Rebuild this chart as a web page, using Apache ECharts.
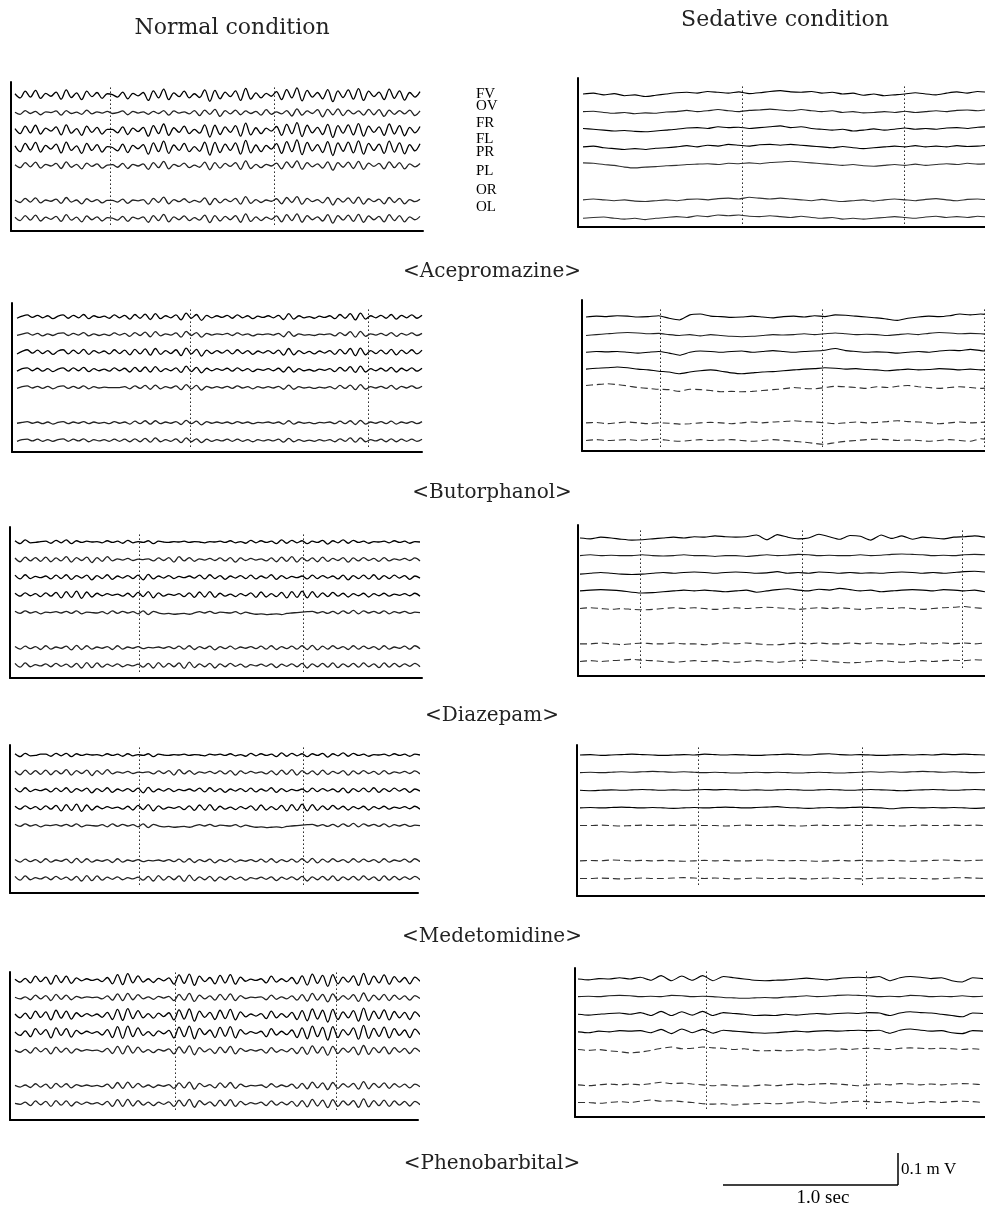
<!DOCTYPE html>
<html><head><meta charset="utf-8">
<script src="https://cdn.jsdelivr.net/npm/echarts@6/dist/echarts.min.js"></script>
<style>html,body{margin:0;padding:0;background:#fff}#c{width:985px;height:1214px}</style>
</head><body><div id="c"></div>
<script>
// ---------------- DATA ----------------
const channels = ['FV','OV','FR','FL','PR','PL','OR','OL'];
const recordedChannels = ['FV','OV','FR','FL','PR','OR','OL']; // PL not traced
const drugs = ['Acepromazine','Butorphanol','Diazepam','Medetomidine','Phenobarbital'];
const conditions = ['Normal condition','Sedative condition'];
const scaleTime = '1.0 sec', scaleVolt = '0.1 m V';
const recordDuration = 2.5; // s shown per panel

// values in µV, order = recordedChannels
const acepromazineNormal = [
 [3,-7,9,-5,11,-8,4,-3,7,-10,12,-6,5,-11,9,-4,6,-8,3,1,-5,7,-9,4,-2,6,-13,10,-7,14,-11,5,-4,9,-7,3,-6,12,-15,11,-9,7,-4,10,-13,16,-10,5,-7,4,-3,8,-11,13,-7,17,-14,11,-5,6,-9,13,-16,10,-6,12,-10,15,-13,9,-4,7,-11,14,-8,10,-12,6,-5,8],
 [1,-4,5,-2,3,-5,2,0,4,-6,5,-2,1,-4,6,-3,2,-1,3,-2,0,4,-5,3,-1,2,-4,3,-2,5,-6,4,-1,2,-3,5,-7,6,-4,8,-9,5,-3,6,-5,4,-2,3,-6,7,-4,2,-3,5,-8,9,-6,4,-2,7,-10,8,-5,9,-7,6,-3,4,-6,8,-5,7,-9,6,-4,5,-3,6,-7,4],
 [4,-8,10,-6,12,-9,5,-2,8,-11,13,-7,4,-12,10,-5,7,-9,2,2,-6,8,-10,5,-3,7,-14,11,-8,15,-12,6,-5,10,-8,2,-7,13,-16,12,-10,8,-5,11,-14,17,-11,6,-8,5,-2,9,-12,14,-8,18,-15,12,-6,7,-10,14,-17,11,-7,13,-11,16,-14,10,-5,8,-12,15,-9,11,-13,7,-6,9],
 [5,-9,11,-5,13,-10,6,-3,9,-12,14,-6,5,-13,11,-6,8,-10,3,1,-7,9,-11,6,-2,8,-15,12,-9,16,-13,7,-6,11,-9,3,-8,14,-17,13,-11,9,-6,12,-15,18,-12,7,-9,6,-3,10,-13,15,-9,19,-16,13,-7,8,-11,15,-18,12,-8,14,-12,17,-15,11,-6,9,-13,16,-10,12,-14,8,-7,10],
 [2,-5,7,-3,8,-6,3,-1,5,-7,9,-4,3,-8,6,-2,4,-6,1,2,-4,5,-7,3,-1,4,-9,7,-5,10,-8,3,-2,6,-5,1,-4,8,-10,7,-6,5,-2,7,-9,11,-7,3,-5,3,-1,6,-8,9,-5,11,-9,7,-3,4,-6,9,-11,7,-4,8,-7,10,-9,6,-2,5,-8,9,-5,7,-8,4,-3,5],
 [2,-4,6,-3,7,-5,2,-1,4,-6,8,-3,2,-7,5,-2,3,-5,1,1,-3,4,-6,2,0,3,-8,6,-4,9,-7,3,-2,5,-4,1,-3,7,-9,6,-5,4,-2,6,-8,10,-6,3,-4,2,-1,5,-7,8,-4,10,-8,6,-2,3,-5,8,-10,6,-3,7,-6,9,-8,5,-2,4,-7,8,-4,6,-7,3,-2,4],
 [3,-5,7,-4,8,-6,3,-2,5,-7,9,-4,3,-8,6,-3,4,-6,2,1,-4,5,-7,3,-1,4,-9,7,-5,10,-8,4,-3,6,-5,2,-4,8,-10,7,-6,5,-3,7,-9,11,-7,4,-5,3,-2,6,-8,9,-5,11,-9,7,-3,4,-6,9,-11,7,-4,8,-7,10,-9,6,-3,5,-8,9,-5,7,-8,4,-3,5]
];
const acepromazineSedative = [
 [0,2,-2,1,-4,-2,-6,-3,0,3,4,2,6,4,2,5,1,3,6,8,5,4,6,2,4,0,2,-3,0,-4,-2,0,3,0,-2,2,5,2,6,4],
 [0,1,-2,-4,-2,-5,-3,-4,-1,0,3,0,2,5,2,0,3,4,6,4,2,5,2,0,2,-2,0,-3,-2,0,-2,1,-2,0,2,0,3,4,2,5],
 [2,0,-2,-4,-3,-5,-6,-4,-2,0,3,4,2,6,4,5,2,4,6,8,4,6,2,0,-2,0,-4,-2,1,-2,0,3,0,2,0,3,4,2,5,6],
 [0,2,-2,-4,-6,-4,-6,-3,-2,0,3,0,4,2,6,4,2,5,6,4,6,4,2,0,-2,1,-2,-4,-2,0,2,0,3,0,2,0,3,1,2,4],
 [4,3,0,-2,-6,-8,-6,-5,-3,-2,0,1,2,0,3,2,4,2,5,6,8,6,4,2,0,-2,0,-3,-4,-2,0,-2,1,-2,0,2,0,3,1,2],
 [0,2,0,-2,0,-3,-4,-2,0,-2,1,2,0,3,4,2,6,4,2,4,2,0,-2,1,-2,-4,-2,0,-3,0,2,0,-2,1,3,0,-2,1,2,0],
 [-2,0,1,-2,-4,-2,-5,-2,0,2,0,4,2,6,4,6,3,2,4,2,0,3,0,-2,0,-4,-2,-4,-2,0,2,0,-2,1,3,0,2,0,3,1]
];
const butorphanolNormal = [
 [-3,2,5,-1,4,-2,3,-4,2,5,-3,4,-2,6,-4,3,-1,2,-3,5,-2,4,-5,6,-3,7,-6,8,-4,3,-2,5,-7,9,-3,6,-8,4,-2,3,-1,4,-3,5,-2,3,-4,2,-1,3,-2,4,-6,8,-5,3,-2,1,-3,2,-1,3,-4,6,-3,8,-7,9,-5,3,-2,4,-3,6,-5,4,-2,5,-3,4],
 [-2,1,4,-1,3,-3,2,-2,3,4,-2,3,-1,5,-3,2,-2,1,-2,4,-1,3,-4,5,-2,6,-5,7,-3,2,-1,4,-6,8,-2,5,-6,3,-1,2,0,3,-2,4,-1,2,-3,1,0,2,-1,3,-5,7,-4,2,-1,0,-2,1,0,2,-3,5,-2,7,-6,8,-4,2,-1,3,-2,5,-4,3,-1,4,-2,3],
 [-4,2,6,-2,5,-3,4,-5,3,6,-4,5,-3,7,-5,4,-2,3,-4,6,-3,5,-6,7,-4,8,-7,9,-5,4,-3,6,-8,10,-4,7,-9,5,-3,4,-2,5,-4,6,-3,4,-5,3,-2,4,-3,5,-7,9,-6,4,-3,2,-4,3,-2,4,-5,7,-4,9,-8,10,-6,4,-3,5,-4,7,-6,5,-3,6,-4,5],
 [-3,3,5,-2,4,-3,3,-4,2,5,-3,5,-2,6,-4,3,-2,2,-3,5,-2,4,-5,6,-4,7,-5,8,-4,3,-2,5,-6,9,-4,6,-7,4,-2,3,-1,4,-3,5,-2,3,-4,2,-1,3,-2,4,-5,7,-5,3,-2,1,-3,2,-1,3,-4,6,-3,8,-6,9,-5,3,-2,4,-3,6,-5,4,-2,5,-3,4],
 [-2,2,4,-1,3,-2,3,-3,2,4,-2,3,-2,4,-3,2,-1,1,0,0,0,2,-3,4,-2,5,-4,6,-3,2,-1,4,-5,7,-3,5,-6,3,-1,2,-1,3,-2,4,-1,2,-3,2,-1,2,-1,3,-4,6,-4,2,-1,1,-2,1,-1,2,-3,5,-2,6,-5,7,-4,2,-1,3,-2,5,-4,3,-1,4,-2,3],
 [-1,1,3,-1,2,-2,2,-3,1,3,-2,2,-1,3,-2,2,-1,1,-2,3,-1,2,-3,4,-2,5,-3,5,-2,2,-1,3,-4,6,-2,4,-5,3,-1,2,-1,2,-2,3,-1,2,-2,1,0,2,-1,2,-3,5,-3,2,-1,1,-2,1,0,2,-2,4,-2,5,-4,6,-3,2,-1,3,-2,4,-3,2,-1,3,-2,3],
 [-2,2,3,-1,3,-2,2,-2,2,4,-2,3,-1,4,-3,2,-1,2,-2,3,-2,3,-3,4,-3,5,-4,6,-3,2,-2,4,-5,6,-3,4,-5,3,-2,2,-1,3,-2,3,-2,2,-3,2,-1,2,-1,3,-4,5,-3,2,-2,1,-2,2,-1,2,-3,4,-2,6,-4,6,-3,2,-1,3,-3,4,-3,3,-2,3,-2,3]
];
const butorphanolSedative = [
 [0,2,1,3,2,0,1,3,-3,-7,5,7,2,1,-1,0,2,0,-2,1,2,0,3,1,5,4,2,0,-2,-5,-8,-3,0,2,1,3,7,5,7,5],
 [-2,0,2,4,5,4,2,3,0,-2,0,-3,0,-2,-4,-5,-4,-2,0,-1,0,2,0,2,4,2,0,1,0,-2,0,2,0,3,5,4,2,3,2,0],
 [0,2,1,2,0,-2,0,2,-2,-7,0,3,2,0,2,3,0,2,4,2,0,2,3,5,9,4,2,0,1,0,-2,0,2,0,3,5,4,7,4,2],
 [2,4,5,7,5,2,0,-3,-5,-9,-5,-2,0,-3,-7,-9,-7,-5,-4,-2,0,2,3,5,4,2,3,1,0,-2,0,2,0,1,3,2,0,2,0,2],
 [5,7,9,7,4,0,-2,-4,-5,-9,-4,-5,-7,-10,-9,-10,-9,-7,-5,-3,0,-2,-3,0,3,2,0,-2,2,0,3,5,2,0,-2,0,2,0,-2,0],
 [0,1,-2,0,2,0,-2,0,-1,-3,-2,0,1,0,-2,0,2,0,2,3,5,3,2,0,-2,0,2,0,1,3,5,3,2,0,-2,0,2,0,1,3],
 [0,2,0,1,2,0,2,3,0,-2,0,2,0,1,2,0,-2,0,2,0,-2,-4,-7,-9,-5,-2,0,2,3,2,0,1,0,-2,0,2,0,-2,4,2]
];
const diazepamNormal = [
 [3,-4,5,-2,-1,1,2,-3,4,-2,5,-4,3,-1,2,0,1,-2,3,-1,2,-3,4,-2,1,-1,3,-4,2,0,-1,1,0,2,-1,1,0,-2,1,0,2,-1,3,-2,1,-3,4,-2,3,-1,2,-4,5,-3,4,-2,3,-4,2,-1,4,-5,3,-2,5,-3,4,-1,2,-3,1,0,2,-2,3,-1,2,-3,1,0],
 [4,-5,6,-3,5,-4,6,-5,4,-3,7,-6,5,-2,6,-7,5,-4,7,-3,2,-1,3,-2,1,0,2,-3,4,-2,5,-6,7,-3,5,-4,2,-1,3,-2,4,-3,5,-6,4,-2,3,-1,2,-3,4,-5,6,-4,7,-6,5,-3,4,-5,6,-4,3,-2,5,-6,4,-3,5,-2,3,-4,5,-3,2,-1,3,-2,4,-3],
 [5,-4,6,-3,2,-1,3,-4,5,-3,6,-5,4,-2,5,-6,4,-3,6,-5,3,-2,4,-3,5,-6,7,-4,3,-2,4,-3,2,-1,3,-2,5,-4,6,-3,4,-5,3,-2,4,-3,5,-4,3,-2,6,-5,4,-3,2,-1,3,-4,5,-3,4,-2,3,-4,5,-6,4,-3,5,-4,6,-5,4,-3,5,-2,4,-5,3,-2],
 [4,-3,5,-2,3,-4,5,-3,6,-7,8,-6,9,-8,7,-5,4,-2,3,-1,2,-3,4,-5,6,-4,8,-7,5,-3,2,-1,3,-4,5,-6,7,-5,8,-6,4,-3,2,-4,3,-2,5,-6,7,-5,3,-4,6,-7,8,-6,9,-7,8,-6,5,-4,6,-3,4,-5,3,-2,4,-5,3,-2,4,-3,2,-1,3,-2,4,-3],
 [3,-2,4,-1,2,-3,1,0,2,-1,3,-2,4,-3,1,0,-1,2,-3,4,-2,3,-1,2,-3,4,-5,3,-1,-3,-2,-4,-3,-2,-4,-1,2,-1,3,-2,1,0,-1,2,-3,1,-2,-4,-3,-5,-4,-3,-5,-2,-1,0,1,2,3,-1,2,-2,3,-3,4,-2,5,-3,4,-1,3,-2,4,-3,2,-1,3,-2,1,0],
 [3,-3,4,-2,3,-4,5,-3,2,-1,4,-5,6,-4,5,-3,2,-1,3,-4,5,-3,2,-1,3,-2,1,0,2,-1,3,-2,4,-3,5,-4,3,-2,4,-5,3,-2,4,-3,2,-1,3,-2,4,-3,5,-4,3,-2,4,-3,5,-4,6,-5,4,-3,5,-2,3,-4,5,-3,4,-2,3,-4,5,-3,2,-1,4,-3,5,-2],
 [5,-4,6,-3,2,-1,4,-3,5,-2,3,-4,5,-6,7,-5,6,-4,3,-2,4,-3,2,-1,3,-4,5,-6,7,-4,5,-3,6,-7,8,-5,4,-3,5,-6,4,-3,5,-2,3,-4,2,-1,3,-2,4,-5,3,-2,4,-3,5,-6,4,-3,5,-4,6,-5,4,-3,5,-4,6,-3,4,-5,6,-4,5,-3,4,-2,5,-3]
];
const diazepamSedative = [
 [0,-2,2,0,-3,-5,-4,-2,0,2,0,3,2,5,3,2,3,7,-4,8,2,-2,0,9,3,-3,6,4,-5,7,-1,5,-3,2,0,-2,2,3,5,2],
 [0,2,0,1,0,0,2,0,-1,0,2,0,0,-2,0,0,-2,0,2,0,1,3,2,0,1,0,0,2,0,1,3,4,3,2,0,1,0,2,3,2],
 [-2,0,2,0,-2,-3,-2,0,2,0,2,3,2,0,2,3,2,0,1,4,0,2,0,3,2,0,2,0,1,0,2,3,2,0,2,0,2,4,5,3],
 [0,2,3,2,0,-3,-5,-4,-2,0,2,0,2,0,-2,0,2,-3,0,3,5,2,0,4,2,6,3,0,2,-2,0,2,3,2,0,3,2,0,2,-2],
 [0,2,0,-2,0,-2,-3,-2,0,2,0,2,0,-2,0,2,0,2,3,2,0,-2,0,2,0,2,0,-2,0,2,0,2,0,-2,0,2,3,5,2,0],
 [0,0,2,0,-2,0,2,0,0,2,0,0,-2,0,2,0,2,0,-2,-2,0,2,0,2,0,0,2,0,2,0,0,-2,0,2,0,2,0,2,0,2],
 [0,2,0,2,3,5,3,2,0,-2,0,2,0,2,0,-2,0,2,0,-2,0,2,3,2,0,-2,-3,-2,0,2,0,-2,0,2,0,2,3,2,4,3]
];
const medetomidineNormal = [
 [3,-4,4,-2,-1,2,2,-3,4,-2,4,-4,3,-1,2,0,1,-2,3,-1,2,-3,3,-2,1,-1,3,-4,2,0,-1,1,0,2,-1,1,0,-2,2,0,2,-1,3,-2,1,-3,4,-2,3,-1,2,-4,5,-3,4,-2,3,-4,3,-1,4,-5,3,-2,5,-3,4,-1,2,-3,1,0,2,-2,3,-1,2,-3,2,0],
 [4,-5,6,-4,5,-4,6,-5,5,-3,7,-6,5,-2,6,-7,5,-4,7,-3,2,-1,3,-2,1,0,2,-3,4,-2,5,-6,7,-3,5,-4,2,-1,3,-2,4,-3,5,-6,4,-2,3,-1,2,-3,4,-5,6,-4,7,-6,5,-3,4,-5,6,-4,3,-2,5,-6,4,-3,5,-2,3,-4,5,-3,2,-1,3,-2,4,-3],
 [5,-4,6,-3,2,-1,3,-4,5,-3,6,-5,4,-2,5,-6,4,-3,6,-5,3,-2,4,-3,5,-6,7,-4,3,-2,4,-3,2,-1,3,-2,5,-4,6,-3,4,-5,3,-2,4,-3,5,-4,3,-2,6,-5,4,-3,2,-1,3,-4,5,-3,4,-2,3,-4,5,-6,4,-3,5,-4,6,-5,4,-3,5,-2,4,-5,3,-2],
 [4,-3,5,-2,3,-4,5,-3,6,-7,8,-6,9,-8,7,-5,4,-2,3,-1,2,-3,4,-5,6,-4,8,-7,5,-3,2,-1,3,-4,5,-6,7,-5,8,-6,4,-3,2,-4,3,-2,5,-6,7,-5,3,-4,6,-7,8,-6,9,-7,8,-6,5,-4,6,-3,4,-5,3,-2,4,-5,3,-2,4,-3,2,-1,3,-2,4,-3],
 [3,-2,4,-1,2,-3,1,0,2,-1,3,-2,4,-3,1,0,-1,2,-3,4,-2,3,-1,2,-3,4,-5,3,-1,-3,-2,-4,-3,-2,-4,-1,2,-1,3,-2,1,0,-1,2,-3,1,-2,-4,-3,-5,-4,-3,-5,-2,-1,0,1,2,3,-1,2,-2,3,-3,4,-2,5,-3,4,-1,3,-2,4,-3,2,-1,3,-2,1,0],
 [3,-3,4,-2,3,-4,5,-3,2,-1,4,-5,6,-4,5,-3,2,-1,3,-4,5,-3,2,-1,3,-2,1,0,2,-1,3,-2,4,-3,5,-4,3,-2,4,-5,3,-2,4,-3,2,-1,3,-2,4,-3,5,-4,3,-2,4,-3,5,-4,6,-5,4,-3,5,-2,3,-4,5,-3,4,-2,3,-4,5,-3,2,-1,4,-3,5,-2],
 [5,-4,6,-3,2,-1,4,-3,5,-2,3,-4,5,-6,7,-5,6,-4,3,-2,4,-3,2,-1,3,-4,5,-6,7,-4,5,-3,6,-7,8,-5,4,-3,5,-6,4,-3,5,-2,3,-4,2,-1,3,-2,4,-5,3,-2,4,-3,5,-6,4,-3,5,-4,6,-5,4,-3,5,-4,6,-3,4,-5,6,-4,5,-3,4,-2,5,-3]
];
const medetomidineSedative = [
 [0,1,-1,0,1,2,1,0,-1,0,1,0,2,1,0,1,0,-1,0,1,2,1,0,2,3,1,0,1,0,-1,0,1,0,1,0,2,1,2,1,0],
 [0,1,0,1,2,1,2,3,2,1,2,1,0,1,0,-1,0,1,0,1,0,-1,0,1,0,-1,0,1,2,1,2,1,2,3,2,1,2,1,0,1],
 [0,-1,0,1,0,1,2,1,0,1,0,1,2,1,2,1,0,1,0,1,2,1,0,1,2,1,0,1,2,1,0,-1,0,1,2,1,0,1,2,1],
 [0,1,0,1,2,1,0,1,0,-1,0,1,0,1,2,1,0,1,2,3,1,0,-1,0,1,0,1,2,1,0,-2,0,1,0,1,0,1,0,-1,0],
 [0,0,1,0,-1,0,1,0,0,1,0,1,0,0,-1,0,1,0,0,1,0,-1,0,1,0,0,1,0,1,0,0,-1,0,1,0,0,1,0,1,0],
 [0,1,0,2,1,0,1,0,1,0,-1,0,1,0,1,0,0,1,2,1,0,1,0,-1,0,1,0,1,0,0,1,0,-1,0,1,2,1,0,1,2],
 [0,0,1,0,-1,0,1,0,0,1,2,1,0,1,0,-1,0,1,0,0,1,0,-1,0,1,0,0,-1,0,1,0,1,0,0,-1,0,1,2,1,0]
];
const phenobarbitalNormal = [
 [2,-5,4,-7,9,-4,7,-10,11,-6,9,-8,5,-2,3,-1,2,-4,6,-9,13,-11,15,-7,10,-5,3,-6,4,-2,5,-10,12,-8,14,-13,9,-4,6,-9,11,-7,13,-10,7,-3,2,-1,3,-7,9,-5,3,-4,6,-9,10,-12,14,-8,11,-15,13,-9,7,-5,10,-13,16,-11,9,-7,12,-10,8,-5,6,-9,7,-3],
 [1,-3,2,-5,6,-3,5,-7,8,-4,6,-5,3,-1,2,0,1,-3,4,-6,9,-7,10,-5,7,-3,2,-4,3,-1,3,-7,8,-6,10,-9,6,-3,4,-6,8,-5,9,-7,5,-2,1,0,2,-5,6,-4,2,-3,4,-6,7,-8,10,-6,8,-10,9,-6,5,-4,7,-9,11,-8,6,-5,8,-7,6,-4,4,-6,5,-2],
 [3,-6,5,-8,10,-5,8,-11,12,-7,10,-9,6,-3,4,-2,3,-5,7,-10,14,-12,16,-8,11,-6,4,-7,5,-3,6,-11,13,-9,15,-14,10,-5,7,-10,12,-8,14,-11,8,-4,3,-2,4,-8,10,-6,4,-5,7,-10,11,-13,15,-9,12,-16,14,-10,8,-6,11,-14,17,-12,10,-8,13,-11,9,-6,7,-10,8,-4],
 [2,-6,5,-9,10,-4,8,-12,12,-6,10,-10,6,-2,4,-1,3,-5,8,-11,15,-13,16,-9,12,-6,3,-7,5,-2,6,-12,14,-9,16,-14,11,-4,7,-11,13,-8,15,-12,8,-3,3,-1,4,-9,10,-5,4,-4,7,-11,12,-14,16,-9,13,-17,15,-11,8,-5,12,-15,18,-13,11,-8,14,-12,10,-6,7,-11,9,-4],
 [1,-4,3,-6,7,-3,5,-8,8,-4,6,-6,4,-1,2,0,1,-3,5,-7,10,-8,11,-6,8,-4,2,-5,3,-1,4,-8,9,-6,11,-10,7,-3,4,-7,8,-5,10,-8,5,-2,2,-1,3,-6,7,-4,2,-3,5,-7,8,-9,11,-6,9,-11,10,-7,6,-4,8,-10,12,-9,7,-5,9,-8,7,-4,5,-7,6,-3],
 [1,-3,2,-4,5,-3,4,-6,6,-3,5,-5,3,-1,2,-1,1,-2,4,-6,8,-6,9,-5,6,-3,2,-4,2,-1,3,-6,7,-5,9,-8,6,-2,3,-5,7,-4,8,-6,4,-2,1,0,2,-4,5,-3,2,-2,4,-6,6,-7,9,-5,7,-9,8,-6,5,-3,6,-8,10,-7,6,-4,7,-6,5,-3,4,-5,4,-2],
 [0,-2,3,-5,6,-3,5,-7,7,-4,6,-6,4,-2,3,-1,2,-3,5,-7,9,-7,10,-6,7,-4,3,-5,3,-2,4,-7,8,-6,10,-9,7,-3,4,-6,8,-5,9,-7,5,-3,2,-1,3,-5,6,-4,3,-3,5,-7,7,-8,10,-6,8,-10,9,-7,6,-4,7,-9,11,-8,7,-5,8,-7,6,-4,5,-6,5,-3]
];
const phenobarbitalSedative = [
 [0,-2,1,0,3,0,4,-3,8,-4,7,-3,8,-4,6,3,0,-3,-4,-3,-2,0,2,0,-2,1,3,4,3,6,-4,3,6,4,1,3,-4,-7,3,1],
 [0,1,0,2,3,2,0,1,0,3,2,0,1,0,-2,-3,-4,-3,-2,-3,-1,0,2,0,1,3,4,3,2,0,1,0,3,2,0,1,0,2,0,1],
 [0,-2,0,2,3,0,4,-3,7,-3,6,-2,7,-3,4,2,0,-3,-2,-3,0,-2,0,2,0,2,3,2,4,3,-3,3,6,4,3,0,-3,-6,3,2],
 [0,-2,2,0,3,2,3,-2,6,-4,7,-2,6,-3,4,2,0,-2,-3,-2,0,2,0,2,3,2,3,4,3,4,-3,4,7,4,2,3,-2,-4,3,2],
 [0,-2,0,-3,-5,-8,-6,-2,3,6,2,3,6,4,3,0,2,-2,-3,-2,-3,-2,0,-2,0,2,0,2,3,2,0,3,4,3,2,3,2,0,2,0],
 [0,-2,0,2,0,2,0,3,6,3,4,2,0,-2,0,-2,-3,-2,0,-2,0,2,0,2,3,2,0,-2,0,2,0,3,2,0,2,0,2,3,2,0],
 [0,0,-2,0,2,0,3,6,3,4,2,0,-3,-4,-3,-6,-4,-3,-2,-3,-2,0,2,0,-2,0,2,3,2,0,2,0,-2,0,2,0,2,3,2,0]
];
// 1-second time marks (s from start of trace)
const acepromazineNormalMarks = [0.59, 1.60], acepromazineSedativeMarks = [0.98, 1.98];
const butorphanolNormalMarks = [1.07, 2.17], butorphanolSedativeMarks = [0.46, 1.46, 2.457];
const diazepamNormalMarks = [0.77, 1.78], diazepamSedativeMarks = [0.37, 1.37, 2.36];
const medetomidineNormalMarks = [0.77, 1.78], medetomidineSedativeMarks = [0.73, 1.74];
const phenobarbitalNormalMarks = [0.99, 1.98], phenobarbitalSedativeMarks = [0.79, 1.78];

// ---------------- LAYOUT ----------------
const PX_PER_SEC = 162, PX_PER_UV = 0.42, CH_SPACING = 42;
// [axisLeft, top, right, bottom, traceStartX, firstTraceY]
const boxes = [
 [11,82,423,231,15,95],[578,78,985,227,583,94],
 [12,303,422,452,17,317],[582,300,985,451,586,317],
 [10,527,422,678,15,542],[578,525,985,676,580,538],
 [10,745,418,893,15,755],[577,745,985,896,580,755],
 [10,972,418,1120,15,980],[575,968,985,1117,578,979]
];
const panelData = [
 [acepromazineNormal, acepromazineNormalMarks],[acepromazineSedative, acepromazineSedativeMarks],
 [butorphanolNormal, butorphanolNormalMarks],[butorphanolSedative, butorphanolSedativeMarks],
 [diazepamNormal, diazepamNormalMarks],[diazepamSedative, diazepamSedativeMarks],
 [medetomidineNormal, medetomidineNormalMarks],[medetomidineSedative, medetomidineSedativeMarks],
 [phenobarbitalNormal, phenobarbitalNormalMarks],[phenobarbitalSedative, phenobarbitalSedativeMarks]
];

const grids = [], xAxes = [], yAxes = [], series = [];
boxes.forEach((b, i) => {
  const [l, t, r, btm, ts, fy] = b;
  grids.push({left: l, top: t, width: r - l, height: btm - t});
  const axisLine = {show: true, onZero: false, lineStyle: {color: '#000', width: 2}};
  xAxes.push({type: 'value', gridIndex: i, min: -(ts - l) / PX_PER_SEC, max: (r - ts) / PX_PER_SEC,
    axisLine, axisTick: {show: false}, axisLabel: {show: false}, splitLine: {show: false}});
  const yMax = (fy - t) / PX_PER_UV, yMin = yMax - (btm - t) / PX_PER_UV;
  yAxes.push({type: 'value', gridIndex: i, min: yMin, max: yMax,
    axisLine, axisTick: {show: false}, axisLabel: {show: false}, splitLine: {show: false}});
  const [traces, marks] = panelData[i];
  const sedative = i % 2 === 1;
  traces.forEach((vals, j) => {
    const ch = channels.indexOf(recordedChannels[j]);
    const base = -ch * CH_SPACING;
    const dt = recordDuration / (vals.length - 1);
    const name = recordedChannels[j];
    let color = '#000', type = 'solid', width = sedative ? 1.1 : 1.3;
    if (!sedative) { if (['OV','PR','OR','OL'].includes(name)) color = '#222'; }
    else {
      if (name === 'OV') color = '#222';
      if (['PR','OR','OL'].includes(name)) { color = '#333'; if (i > 1) type = [7, 4]; }
    }
    const s = {type: 'line', xAxisIndex: i, yAxisIndex: i, name: name, symbol: 'none', silent: true,
      animation: false, smooth: sedative ? 0.2 : 0.35, data: vals.map((v, k) => [k * dt, base + v]),
      lineStyle: {width: width, color: color, type: type}};
    if (j === 0) {
      s.markLine = {silent: true, symbol: ['none','none'], animation: false, label: {show: false},
        lineStyle: {type: [1.5, 2.5], color: '#222', width: 1},
        data: marks.map(m => [{coord: [m, 18]}, {coord: [m, -7 * CH_SPACING - 18]}])};
    }
    series.push(s);
  });
});

const serif = "'DejaVu Serif', serif";
const times = "'Liberation Serif', serif";
const graphic = [
  {type: 'text', x: 232, y: 28, style: {text: conditions[0], font: '22px ' + serif, fill: '#222', align: 'center', verticalAlign: 'middle'}},
  {type: 'text', x: 785, y: 20, style: {text: conditions[1], font: '22px ' + serif, fill: '#222', align: 'center', verticalAlign: 'middle'}}
];
const chY = [94, 106, 123, 139, 152, 171, 190, 207];
channels.forEach((c, k) => graphic.push({type: 'text', x: 476, y: chY[k],
  style: {text: c, font: '15px ' + times, fill: '#000', align: 'left', verticalAlign: 'middle'}}));
const drugY = [272, 493, 716, 937, 1164];
drugs.forEach((d, k) => graphic.push({type: 'text', x: 492, y: drugY[k],
  style: {text: '<' + d + '>', font: '20px ' + serif, fill: '#222', align: 'center', verticalAlign: 'middle'}}));
graphic.push({type: 'line', shape: {x1: 723, y1: 1185, x2: 898, y2: 1185}, style: {stroke: '#000', lineWidth: 1.5}});
graphic.push({type: 'line', shape: {x1: 898, y1: 1153, x2: 898, y2: 1185}, style: {stroke: '#000', lineWidth: 1.5}});
graphic.push({type: 'text', x: 901, y: 1170, style: {text: scaleVolt, font: '17px ' + times, fill: '#000', align: 'left', verticalAlign: 'middle'}});
graphic.push({type: 'text', x: 823, y: 1198, style: {text: scaleTime, font: '19px ' + times, fill: '#000', align: 'center', verticalAlign: 'middle'}});

const chart = echarts.init(document.getElementById('c'));
chart.setOption({animation: false, backgroundColor: '#fff', grid: grids, xAxis: xAxes, yAxis: yAxes, series: series, graphic: graphic});
</script></body></html>
